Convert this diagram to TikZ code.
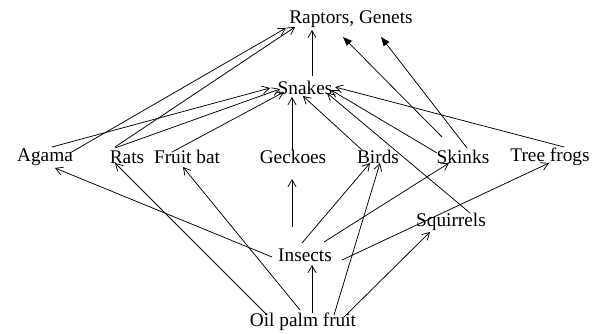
\documentclass[tikz,border=0pt]{standalone}
\usepackage{fontspec}
\setmainfont{Liberation Serif}
\usetikzlibrary{arrows.meta}
\tikzset{
  lbl/.style={inner sep=0pt, font=\fontsize{19.3}{22}\selectfont},
  edge/.style={line width=0.75pt, -{Straight Barb[length=7pt,width=8pt,line width=0.75pt]}},
  fedge/.style={line width=0.75pt, -{Triangle[length=9pt,width=7pt]}},
}
\newcommand{\off}[3]{([shift={(#2,#3)}]#1.center)}
\begin{document}
\begin{tikzpicture}[x=1pt,y=-1pt]
\useasboundingbox (0,0) rectangle (597,333);
\node[lbl] (R) at (351,19) {Raptors, Genets};
\node[lbl] (S) at (305,88) {Snakes};
\node[lbl] (Ag) at (45,157) {Agama};
\node[lbl] (Ra) at (127,157) {Rats};
\node[lbl] (F) at (187,157) {Fruit bat};
\node[lbl] (Ge) at (293,157) {Geckoes};
\node[lbl] (B) at (378,157) {Birds};
\node[lbl] (Sk) at (463,157) {Skinks};
\node[lbl] (T) at (550,157) {Tree frogs};
\node[lbl] (Sq) at (451,222) {Squirrels};
\node[lbl] (I) at (305,255) {Insects};
\node[lbl] (O) at (303,322) {Oil palm fruit};
% to Raptors
\draw[edge] \off{Ag}{25}{-4} -- \off{R}{-65}{9};
\draw[edge] \off{Ra}{-12}{-10} -- \off{R}{-56}{8};
\draw[edge] \off{S}{7}{-12} -- \off{R}{-39}{11};
\draw[fedge] \off{Sk}{-21}{-20} -- \off{R}{-8}{18};
\draw[fedge] \off{Sk}{4}{-9} -- \off{R}{30}{18};
% to Snakes
\draw[edge] \off{Ag}{7}{-10} -- \off{S}{-35}{0};
\draw[edge] \off{Ra}{-12}{-9} -- \off{S}{-25}{1};
\draw[edge] \off{F}{-15}{-5} -- \off{S}{-21}{4};
\draw[edge] \off{Ge}{-1}{-7} -- \off{S}{-13}{9};
\draw[edge] \off{B}{-16}{-7} -- \off{S}{-2}{8};
\draw[edge] \off{Sq}{19}{-9} -- \off{S}{22}{5};
\draw[edge] \off{Sk}{-26}{-4} -- \off{S}{26}{2};
\draw[edge] \off{T}{14}{-10} -- \off{S}{30}{-1};
% from Insects
\draw[edge] \off{I}{-33}{2} -- \off{Ag}{10}{11};
\draw[edge] \off{I}{-13}{-28} -- \off{Ge}{-1}{22};
\draw[edge] \off{I}{-3}{-12} -- \off{B}{-8}{6};
\draw[edge] \off{I}{19}{-13} -- \off{Sk}{-14}{6};
\draw[edge] \off{I}{37}{5} -- \off{T}{-1}{6};
% from Oil palm fruit
\draw[edge] \off{O}{-36}{-7} -- \off{Ra}{-12}{6};
\draw[edge] \off{O}{-3}{-12} -- \off{F}{-4}{10};
\draw[edge] \off{O}{9}{-9} -- \off{I}{7}{10};
\draw[edge] \off{O}{31}{-7} -- \off{B}{2}{6};
\draw[edge] \off{O}{41}{-5} -- \off{Sq}{-21}{10};
\end{tikzpicture}
\end{document}
